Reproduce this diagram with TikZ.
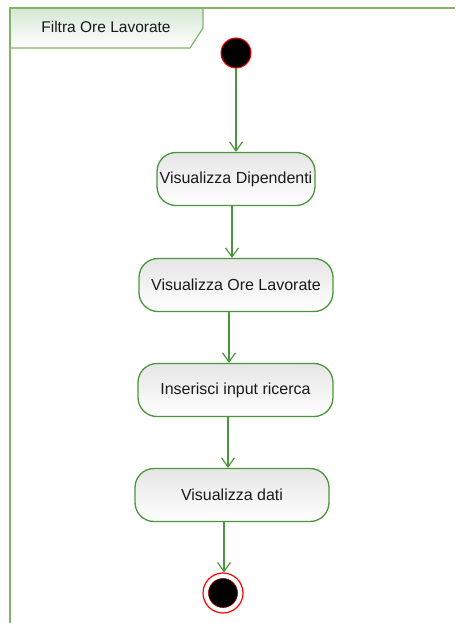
\documentclass[tikz,border=0pt]{standalone}
\usepackage{fontspec}
\setmainfont{Liberation Sans}
\usetikzlibrary{arrows.meta}
\definecolor{framegreen}{RGB}{130,179,102}
\definecolor{tabgreen}{RGB}{213,232,212}
\definecolor{flowgreen}{RGB}{74,150,60}
\definecolor{txt}{RGB}{26,26,26}
\tikzset{
  action/.style={draw=flowgreen, line width=1.3pt, rounded corners=19pt,
    top color=gray!20, bottom color=white, text=txt,
    minimum height=53pt, inner sep=0pt, font=\fontsize{16}{18}\selectfont},
  flow/.style={draw=flowgreen, line width=1.2pt,
    -{Straight Barb[length=9pt,width=13pt,line width=1.2pt]}},
  initial/.style={circle, fill=black, draw=red, line width=1pt,
    minimum size=30pt, inner sep=0pt},
}
\begin{document}
\begin{tikzpicture}[x=1pt,y=-1pt]
  \useasboundingbox (0,0) rectangle (455,623);
  \fill[white] (0,0) rectangle (455,623);
  % frame and its name tab
  \shade[top color=tabgreen, bottom color=white]
    (10,8) -- (203,8) -- (203,28) -- (190,48) -- (10,48) -- cycle;
  \draw[framegreen, line width=1.5pt] (10,623) -- (10,8) -- (455,8);
  \draw[framegreen, line width=1.2pt] (10,48) -- (190,48) -- (203,28) -- (203,8);
  \node[text=txt, font=\fontsize{15.5}{17}\selectfont] (title) at (106,27) {Filtra Ore Lavorate};
  % activity nodes
  \node[initial] (start) at (236,53) {};
  \node[action, minimum width=158pt] (a1) at (236,179) {Visualizza Dipendenti};
  \node[action, minimum width=194pt] (a2) at (236,285) {Visualizza Ore Lavorate};
  \node[action, minimum width=195pt] (a3) at (235.5,390) {Inserisci input ricerca};
  \node[action, minimum width=194pt] (a4) at (232,495) {Visualizza dati};
  \node[circle, draw=red, fill=white, line width=1.2pt, minimum size=40pt, inner sep=0pt] (stop) at (223,593) {};
  \node[circle, fill=black, draw=red!60!black, line width=0.6pt, minimum size=29pt, inner sep=0pt] (stopdot) at (stop) {};
  % control flow
  \draw[flow] (start) -- (a1.north);
  \draw[flow] ([xshift=-4pt]a1.south) -- ([xshift=-4pt]a2.north);
  \draw[flow] ([xshift=-7pt]a2.south) -- ([xshift=-6.5pt]a3.north);
  \draw[flow] ([xshift=-7.5pt]a3.south) -- ([xshift=-4pt]a4.north);
  \draw[flow] ([xshift=-8pt]a4.south) -- ([xshift=1pt]stop.north);
\end{tikzpicture}
\end{document}
